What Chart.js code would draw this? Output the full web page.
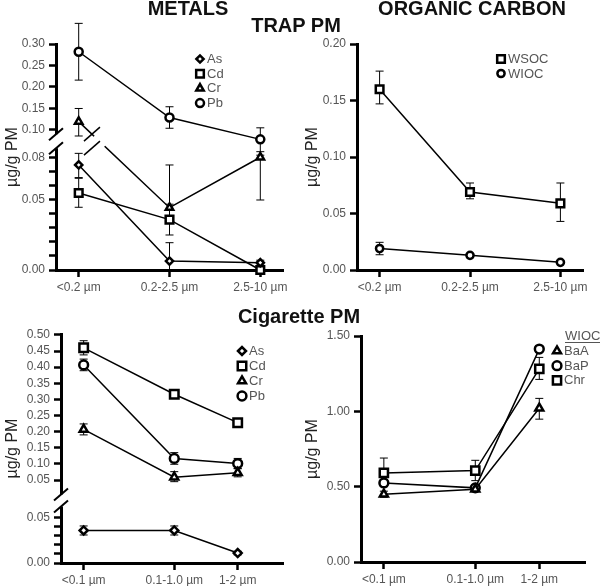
<!DOCTYPE html>
<html>
<head>
<meta charset="utf-8">
<script src="https://cdn.jsdelivr.net/npm/chart.js@4.4.1/dist/chart.umd.min.js"></script>
<style>
body { margin: 0; background: #fff; width: 600px; height: 586px; position: relative; overflow: hidden; font-family: 'Liberation Sans', Arial, sans-serif; }
canvas { position: absolute; }
.ttl { position: absolute; font-weight: bold; font-size: 20px; line-height: 20px; color: #111; white-space: nowrap; transform: translateX(-50%); z-index: 2; }
</style>
</head>
<body>
<div class="ttl" style="left:188px; top:-2px">METALS</div>
<div class="ttl" style="left:472px; top:-2px">ORGANIC CARBON</div>
<div class="ttl" style="left:296px; top:15px">TRAP PM</div>
<div class="ttl" style="left:299px; top:306px">Cigarette PM</div>

<canvas id="trapMetals" width="300" height="300" style="left:0; top:0"></canvas>
<canvas id="trapOC" width="300" height="300" style="left:300px; top:0"></canvas>
<canvas id="cigMetals" width="300" height="286" style="left:0; top:300px"></canvas>
<canvas id="cigOC" width="300" height="286" style="left:300px; top:300px"></canvas>

<script>
// ---- TRAP PM ----
const trapSizes = ['<0.2 µm', '0.2-2.5 µm', '2.5-10 µm'];
const trapX = [0, 1, 2];

const trapAs = [0.075, 0.0064, 0.0052];
const trapAsLo = [0.066, 0.0, 0.0035];
const trapAsHi = [0.0833, 0.0195, 0.007];
const trapCd = [0.055, 0.036, 0.0];
const trapCdLo = [0.0448, 0.025, 0.0];
const trapCdHi = [0.0655, 0.047, 0.0];
const trapCr = [0.1195, 0.0445, 0.0805];
const trapCrLo = [0.0957, 0.036, 0.05];
const trapCrHi = [0.150, 0.075, 0.0845];
const trapPb = [0.282, 0.129, 0.0933];
const trapPbLo = [0.216, 0.104, 0.082];
const trapPbHi = [0.348, 0.154, 0.105];

const trapMetalTicksLow = [0, 0.01, 0.02, 0.03, 0.04, 0.05, 0.06, 0.07, 0.08];
const trapMetalTicksHigh = [0.10, 0.15, 0.20, 0.25, 0.30];
const trapMetalLabelled = [0, 0.05, 0.08, 0.10, 0.15, 0.20, 0.25, 0.30];

const ocWSOC = [0.16, 0.069, 0.059];
const ocWSOCLo = [0.147, 0.063, 0.043];
const ocWSOCHi = [0.176, 0.077, 0.077];
const ocWIOC = [0.019, 0.013, 0.0068];
const ocWIOCLo = [0.0135, 0.0115, 0.0058];
const ocWIOCHi = [0.0245, 0.0145, 0.0078];
const ocTicks = [0, 0.05, 0.10, 0.15, 0.20];

// ---- Cigarette PM ----
const cigSizes = ['<0.1 µm', '0.1-1.0 µm', '1-2 µm'];
const cigX = [0, 1, 1.7];

const cigAs = [0.036, 0.036, 0.011];
const cigAsLo = [0.031, 0.031, 0.009];
const cigAsHi = [0.041, 0.041, 0.013];
const cigCd = [0.46, 0.316, 0.228];
const cigCdLo = [0.438, 0.305, 0.217];
const cigCdHi = [0.482, 0.327, 0.239];
const cigCr = [0.207, 0.059, 0.073];
const cigCrLo = [0.19, 0.045, 0.06];
const cigCrHi = [0.224, 0.076, 0.086];
const cigPb = [0.407, 0.117, 0.101];
const cigPbLo = [0.389, 0.099, 0.085];
const cigPbHi = [0.425, 0.135, 0.117];

const cigMetalTicksLow = [0, 0.01, 0.02, 0.03, 0.04, 0.05];
const cigMetalTicksHigh = [0.05, 0.10, 0.15, 0.20, 0.25, 0.30, 0.35, 0.40, 0.45, 0.50];

const pahBaA = [0.45, 0.483, 1.02];
const pahBaALo = [0.43, 0.47, 0.948];
const pahBaAHi = [0.47, 0.50, 1.086];
const pahBaP = [0.525, 0.492, 1.413];
const pahBaPLo = [0.505, 0.475, 1.40];
const pahBaPHi = [0.545, 0.51, 1.43];
const pahChr = [0.591, 0.607, 1.282];
const pahChrLo = [0.50, 0.54, 1.212];
const pahChrHi = [0.69, 0.675, 1.358];
const pahTicks = [0, 0.5, 1.0, 1.5];

// broken axis mapping (value -> axis units)
function trapMetalAxis(v) { return v <= 0.10 ? v : 0.10 + (v - 0.10) * 0.307; }
function cigMetalAxis(v, seg) { return seg === 'low' ? v : 0.0918 + (v - 0.05) * 0.357; }
function plainAxis(v) { return v; }

const FONT = "'Liberation Sans', Arial, sans-serif";
const GREY = '#555';

function series(label, vals, lo, hi, style, radius, seg) {
    return { label, vals, lo, hi, style, radius, seg };
}

function makeExtras(cfg) {
    return {
        id: 'extras',
        beforeDatasetsDraw(chart) {
            const ctx = chart.ctx, xs = chart.scales.x, ys = chart.scales.y;
            ctx.save();
            ctx.strokeStyle = '#000';
            ctx.lineWidth = 1;
            chart.data.datasets.forEach(ds => {
                ds.lo.forEach((lo, i) => {
                    const x = xs.getPixelForValue(cfg.xPos[i]);
                    const y1 = ys.getPixelForValue(cfg.toAxis(lo, ds.seg));
                    const y2 = ys.getPixelForValue(cfg.toAxis(ds.hi[i], ds.seg));
                    ctx.beginPath();
                    ctx.moveTo(x, y1); ctx.lineTo(x, y2);
                    ctx.moveTo(x - 4, y1); ctx.lineTo(x + 4, y1);
                    ctx.moveTo(x - 4, y2); ctx.lineTo(x + 4, y2);
                    ctx.stroke();
                });
            });
            ctx.restore();
        },
        afterDraw(chart) {
            const ctx = chart.ctx, ys = chart.scales.y, area = chart.chartArea;
            ctx.save();
            // axis break
            if (cfg.axisBreak) {
                const yA = ys.getPixelForValue(cfg.axisBreak[0]);
                const yB = ys.getPixelForValue(cfg.axisBreak[1]);
                const x0 = area.left;
                ctx.fillStyle = '#fff';
                ctx.fillRect(x0 - 3, yB, 6, yA - yB);
                ctx.strokeStyle = '#000';
                ctx.lineWidth = 2;
                [yA, yB].forEach(y => {
                    ctx.beginPath();
                    ctx.moveTo(x0 - 7, y + 6);
                    ctx.lineTo(x0 + 7, y - 6);
                    ctx.stroke();
                });
                if (cfg.lineBreak) {
                    const meta = chart.getDatasetMeta(cfg.lineBreak.ds);
                    const p = meta.data[cfg.lineBreak.seg], q = meta.data[cfg.lineBreak.seg + 1];
                    const xAt = y => p.x + (q.x - p.x) * (y - p.y) / (q.y - p.y);
                    const xb = xAt(yB);
                    ctx.strokeStyle = '#fff';
                    ctx.lineWidth = 4;
                    ctx.beginPath();
                    ctx.moveTo(xAt(yB + 2), yB + 2);
                    ctx.lineTo(xAt(yA - 2), yA - 2);
                    ctx.stroke();
                    ctx.strokeStyle = '#000';
                    ctx.lineWidth = 1.5;
                    [yA, yB].forEach(y => {
                        ctx.beginPath();
                        ctx.moveTo(xb - 8, y + 7);
                        ctx.lineTo(xb + 8, y - 7);
                        ctx.stroke();
                    });
                }
            }
            // legend
            const lg = cfg.legend;
            ctx.font = '13px ' + FONT;
            ctx.textBaseline = 'middle';
            ctx.textAlign = 'left';
            if (lg.header) {
                ctx.fillStyle = GREY;
                ctx.fillText(lg.header, lg.hx, lg.hy);
                const w = ctx.measureText(lg.header).width;
                ctx.fillRect(lg.hx, lg.hy + 6, w, 1);
            }
            cfg.series.forEach((s, i) => {
                const y = lg.y + i * lg.dy;
                ctx.fillStyle = '#fff';
                ctx.strokeStyle = '#000';
                ctx.lineWidth = 2.5;
                Chart.helpers.drawPoint(ctx, { pointStyle: s.style, radius: s.radius, borderWidth: 2.5, rotation: 0 }, lg.x, y);
                ctx.fillStyle = GREY;
                ctx.fillText(s.label, lg.x + 7, y + 0.5);
            });
            ctx.restore();
        }
    };
}

function makePanel(id, cfg) {
    const datasets = cfg.series.map(s => ({
        label: s.label,
        data: s.vals.map((v, i) => ({ x: cfg.xPos[i], y: cfg.toAxis(v, s.seg) })),
        lo: s.lo,
        hi: s.hi,
        seg: s.seg,
        borderColor: '#000',
        borderWidth: 1.5,
        pointStyle: s.style,
        pointRadius: s.radius,
        pointBorderWidth: 2.5,
        pointBackgroundColor: '#fff',
        pointBorderColor: '#000',
        clip: false,
        tension: 0
    }));
    const tickFont = { family: FONT, size: 12 };
    new Chart(document.getElementById(id), {
        type: 'line',
        data: { datasets },
        plugins: [makeExtras(cfg)],
        options: {
            responsive: false,
            animation: false,
            layout: { padding: { top: cfg.padTop, right: cfg.padRight, left: 0, bottom: 0 } },
            plugins: { legend: { display: false }, tooltip: { enabled: false } },
            scales: {
                x: {
                    type: 'linear',
                    min: cfg.xMin,
                    max: cfg.xMax,
                    afterBuildTicks: s => { s.ticks = cfg.xPos.map((v, i) => ({ value: v, lab: cfg.xLabels[i] })); },
                    afterFit: s => { s.height = cfg.xH; },
                    ticks: { autoSkip: false, maxRotation: 0, padding: 3, color: GREY, font: tickFont, callback: (v, i, t) => t[i].lab },
                    grid: { drawOnChartArea: false, tickLength: 7, tickWidth: 2.5, tickColor: '#000' },
                    border: { width: 3, color: '#000' }
                },
                y: {
                    type: 'linear',
                    min: 0,
                    max: cfg.yMax,
                    afterBuildTicks: s => { s.ticks = cfg.yTicks.map(t => ({ value: t.d, lab: t.lab })); },
                    afterFit: s => { s.width = cfg.yW; },
                    ticks: { autoSkip: false, padding: 4, color: GREY, font: tickFont, callback: (v, i, t) => t[i].lab },
                    title: { display: true, text: 'µg/g PM', color: '#222', font: { family: FONT, size: 16 }, padding: { top: 3, bottom: 2 } },
                    grid: { drawOnChartArea: false, tickLength: 7, tickWidth: 2.5, tickColor: '#000' },
                    border: { width: 3, color: '#000' }
                }
            }
        }
    });
}

function tickList(vals, mapFn, seg, labelled) {
    return vals.map(v => ({ d: mapFn(v, seg), lab: (!labelled || labelled.includes(v)) ? v.toFixed(2) : '' }));
}

makePanel('trapMetals', {
    xPos: trapX, xLabels: trapSizes, xMin: -0.25, xMax: 2.25,
    toAxis: trapMetalAxis, yMax: trapMetalAxis(0.30),
    yTicks: tickList(trapMetalTicksLow, trapMetalAxis, 'low', trapMetalLabelled)
        .concat(tickList(trapMetalTicksHigh, trapMetalAxis, 'high', trapMetalLabelled)),
    yW: 56, xH: 30, padTop: 44, padRight: 17,
    axisBreak: [0.087, 0.097],
    lineBreak: { ds: 2, seg: 0 },
    legend: { x: 200, y: 59, dy: 14.7 },
    series: [
        series('As', trapAs, trapAsLo, trapAsHi, 'rectRot', 3.6),
        series('Cd', trapCd, trapCdLo, trapCdHi, 'rect', 5.4),
        series('Cr', trapCr, trapCrLo, trapCrHi, 'triangle', 4.3),
        series('Pb', trapPb, trapPbLo, trapPbHi, 'circle', 4)
    ]
});

makePanel('trapOC', {
    xPos: trapX, xLabels: trapSizes, xMin: -0.25, xMax: 2.25,
    toAxis: plainAxis, yMax: 0.20,
    yTicks: tickList(ocTicks, plainAxis),
    yW: 57, xH: 30, padTop: 44, padRight: 17,
    legend: { x: 201, y: 59, dy: 14.5 },
    series: [
        series('WSOC', ocWSOC, ocWSOCLo, ocWSOCHi, 'rect', 5.4),
        series('WIOC', ocWIOC, ocWIOCLo, ocWIOCHi, 'circle', 3.6)
    ]
});

makePanel('cigMetals', {
    xPos: cigX, xLabels: cigSizes, xMin: -0.25, xMax: 2.2,
    toAxis: cigMetalAxis, yMax: cigMetalAxis(0.50, 'high') + 0.001,
    yTicks: tickList(cigMetalTicksLow, cigMetalAxis, 'low', [0, 0.05])
        .concat(tickList(cigMetalTicksHigh, cigMetalAxis, 'high')),
    yW: 61, xH: 23, padTop: 34, padRight: 17,
    axisBreak: [0.0626, 0.0759],
    legend: { x: 242, y: 51, dy: 15 },
    series: [
        series('As', cigAs, cigAsLo, cigAsHi, 'rectRot', 4, 'low'),
        series('Cd', cigCd, cigCdLo, cigCdHi, 'rect', 6, 'high'),
        series('Cr', cigCr, cigCrLo, cigCrHi, 'triangle', 4.6, 'high'),
        series('Pb', cigPb, cigPbLo, cigPbHi, 'circle', 4.4, 'high')
    ]
});

makePanel('cigOC', {
    xPos: cigX, xLabels: cigSizes, xMin: -0.25, xMax: 2.2,
    toAxis: plainAxis, yMax: 1.5,
    yTicks: tickList(pahTicks, plainAxis),
    yW: 61, xH: 24, padTop: 36, padRight: 15,
    legend: { x: 257, y: 51, dy: 14.7, header: 'WIOC', hx: 265, hy: 36 },
    series: [
        series('BaA', pahBaA, pahBaALo, pahBaAHi, 'triangle', 4.6),
        series('BaP', pahBaP, pahBaPLo, pahBaPHi, 'circle', 4.4),
        series('Chr', pahChr, pahChrLo, pahChrHi, 'rect', 5.8)
    ]
});
</script>
</body>
</html>
